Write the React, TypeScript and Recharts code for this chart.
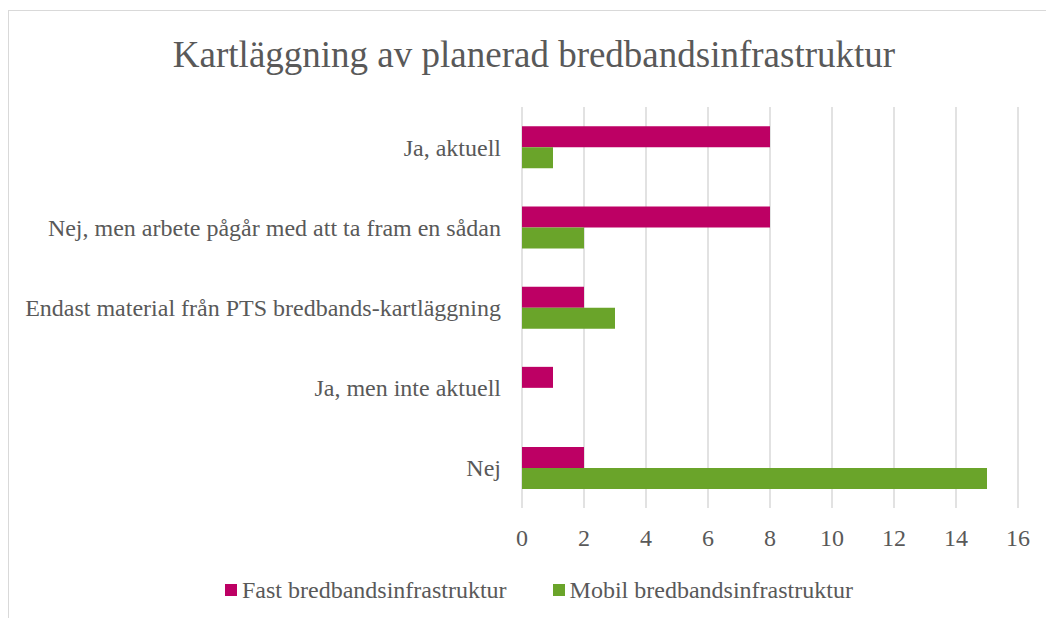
import React from "react";
import { BarChart, Bar, XAxis, YAxis, CartesianGrid } from "recharts";

const categories = [
  "Ja, aktuell",
  "Nej, men arbete pågår med att ta fram en sådan",
  "Endast material från PTS bredbands-kartläggning",
  "Ja, men inte aktuell",
  "Nej",
];
const fastValues = [8, 8, 2, 1, 2];
const mobilValues = [1, 2, 3, 0, 15];
const xTicks = [0, 2, 4, 6, 8, 10, 12, 14, 16];
const seriesNames = ["Fast bredbandsinfrastruktur", "Mobil bredbandsinfrastruktur"];
const seriesColors = ["#BD0064", "#6AA42A"];
const title = "Kartläggning av planerad bredbandsinfrastruktur";

const data = categories.map((c, i) => ({
  name: c,
  fast: fastValues[i],
  mobil: mobilValues[i],
}));

const FONT = '"Liberation Serif", "Times New Roman", serif';
const TEXT = "#595959";

export default function App() {
  return (
    <div
      style={{
        position: "absolute",
        left: 0,
        top: 0,
        width: 1046,
        height: 618,
        background: "#fff",
        fontFamily: FONT,
        overflow: "hidden",
      }}
    >
      <div
        style={{
          position: "absolute",
          left: 8,
          top: 10,
          width: 1100,
          height: 700,
          borderTop: "1px solid #d9d9d9",
          borderLeft: "1px solid #d9d9d9",
        }}
      />
      <div
        style={{
          position: "absolute",
          left: 0,
          top: 32,
          width: 1068,
          textAlign: "center",
          fontSize: 37,
          color: TEXT,
          lineHeight: "46px",
          whiteSpace: "nowrap",
        }}
      >
        {title}
      </div>
      <div style={{ position: "absolute", left: 0, top: 0 }}>
        <BarChart
          width={1046}
          height={618}
          data={data}
          layout="vertical"
          margin={{ top: 107, right: 28, bottom: 80, left: 0 }}
          barCategoryGap="24%"
          barGap={0}
        >
          <CartesianGrid
            horizontal={false}
            stroke="#d9d9d9"
            strokeWidth={1.5}
            verticalValues={xTicks}
          />
          <XAxis
            type="number"
            domain={[0, 16]}
            ticks={xTicks}
            axisLine={false}
            tickLine={false}
            tickSize={0}
            tickMargin={21}
            height={30}
            tick={{ fill: TEXT, fontSize: 24, fontFamily: FONT }}
            interval={0}
          />
          <YAxis
            type="category"
            dataKey="name"
            width={522}
            axisLine={false}
            tickLine={false}
            tickSize={0}
            tickMargin={21}
            interval={0}
            tick={{ fill: TEXT, fontSize: 24, fontFamily: FONT }}
          />
          <Bar dataKey="fast" name={seriesNames[0]} fill={seriesColors[0]} isAnimationActive={false} />
          <Bar dataKey="mobil" name={seriesNames[1]} fill={seriesColors[1]} isAnimationActive={false} />
        </BarChart>
      </div>
      <div
        style={{
          position: "absolute",
          left: 225,
          top: 575,
          display: "flex",
          alignItems: "center",
          fontSize: 24,
          color: TEXT,
          whiteSpace: "nowrap",
          lineHeight: "30px",
        }}
      >
        {seriesNames.map((n, i) => (
          <div
            key={n}
            style={{ display: "flex", alignItems: "center", marginRight: i === 0 ? 46 : 0 }}
          >
            <span
              style={{
                display: "inline-block",
                width: 12,
                height: 12,
                background: seriesColors[i],
                marginRight: 5,
              }}
            />
            <span>{n}</span>
          </div>
        ))}
      </div>
    </div>
  );
}
